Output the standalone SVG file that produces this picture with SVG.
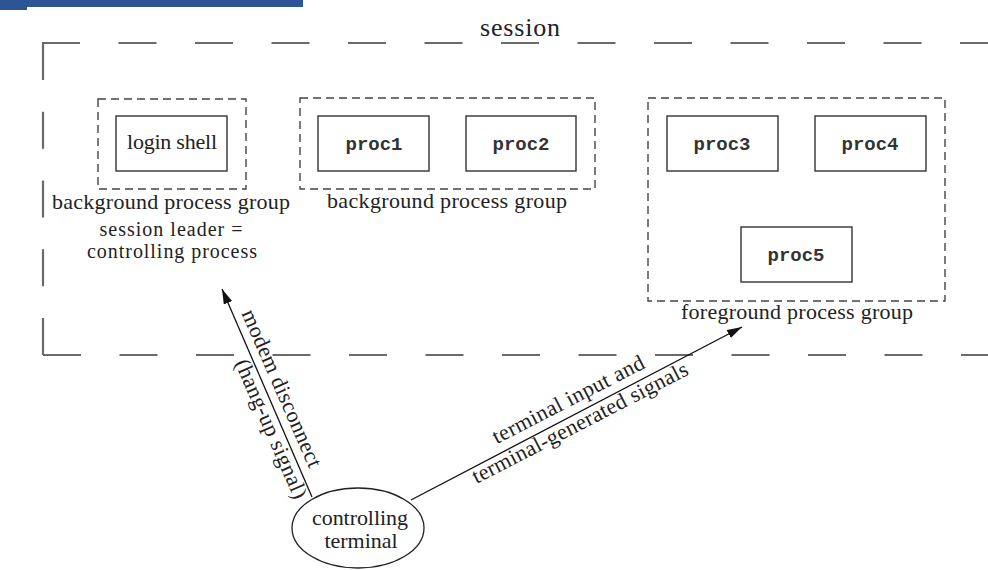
<svg xmlns="http://www.w3.org/2000/svg" width="988" height="570" viewBox="0 0 988 570">
<defs>
<style>
.sess{fill:none;stroke:#6a6a6a;stroke-width:2.2}
.grp{fill:none;stroke:#444;stroke-width:1.4;stroke-dasharray:8 5}
.box{fill:none;stroke:#333;stroke-width:1.4}
.t{font-family:"Liberation Serif","Times New Roman",serif;font-size:22px;fill:#222;text-anchor:middle}
.m{font-family:"Liberation Mono","Courier New",monospace;font-size:19px;font-weight:bold;fill:#333;text-anchor:middle}
.arr{fill:none;stroke:#111;stroke-width:1.3}
</style>
<marker id="ah" markerUnits="userSpaceOnUse" markerWidth="16" markerHeight="10" refX="15" refY="4.5" orient="auto">
<path d="M0,0 L15,4.5 L0,9 Z" fill="#111"/>
</marker>
</defs>
<rect width="988" height="570" fill="#ffffff"/>
<rect x="0" y="0" width="303" height="7" fill="#2d5596"/>
<rect x="0" y="0" width="27" height="10" fill="#2d5596"/>

<g id="session">
<path class="sess" d="M42,43 H988" stroke-dasharray="38 38.5"/>
<path class="sess" d="M43,43 V355" stroke-dasharray="37 31.75"/>
<path class="sess" d="M43,355 H988" stroke-dasharray="38 38.5"/>
<text class="t" x="520" y="36" style="font-size:26px" textLength="80">session</text>
</g>

<g id="login-group">
<rect class="grp" x="98" y="99" width="148" height="90"/>
<rect class="box" x="116" y="116" width="111" height="55"/>
<text class="t" x="172" y="149" textLength="90">login shell</text>
<text class="t" x="171" y="209" textLength="238">background process group</text>
<text class="t" x="171" y="235.5" style="font-size:20px" textLength="143">session leader =</text>
<text class="t" x="172" y="258" style="font-size:20px" textLength="170">controlling process</text>
</g>

<g id="bg-group">
<rect class="grp" x="300" y="98" width="295" height="91"/>
<text class="t" x="447" y="208" textLength="240">background process group</text>
</g>
<g id="proc1">
<rect class="box" x="318" y="116" width="111" height="55"/>
<text class="m" x="374" y="150">proc1</text>
</g>
<g id="proc2">
<rect class="box" x="466" y="116" width="110" height="55"/>
<text class="m" x="521" y="150">proc2</text>
</g>

<g id="fg-group">
<rect class="grp" x="648" y="98" width="297" height="203"/>
<text class="t" x="797" y="319" textLength="232">foreground process group</text>
</g>
<g id="proc3">
<rect class="box" x="667" y="116" width="111" height="55"/>
<text class="m" x="722" y="150">proc3</text>
</g>
<g id="proc4">
<rect class="box" x="815" y="116" width="111" height="55"/>
<text class="m" x="870" y="150">proc4</text>
</g>
<g id="proc5">
<rect class="box" x="741" y="227" width="111" height="55"/>
<text class="m" x="796" y="261">proc5</text>
</g>

<g id="terminal">
<ellipse cx="358" cy="528" rx="66" ry="40" fill="none" stroke="#222" stroke-width="1.3"/>
<text class="t" x="360" y="525" textLength="96">controlling</text>
<text class="t" x="361" y="548" textLength="73">terminal</text>
</g>

<g id="connectors">
<line class="arr" x1="312" y1="497" x2="222" y2="289" marker-end="url(#ah)"/>
<line class="arr" x1="411" y1="500" x2="742" y2="327" marker-end="url(#ah)"/>
<text class="t" transform="translate(275.3,391.1) rotate(66.4)" textLength="170">modem disconnect</text>
<text class="t" transform="translate(264.7,431.8) rotate(66.4)" textLength="150">(hang-up signal)</text>
<text class="t" transform="translate(571.5,405.8) rotate(-27.25)" textLength="168">terminal input and</text>
<text class="t" transform="translate(583.1,429.1) rotate(-27.25)" textLength="240">terminal-generated signals</text>
</g>
</svg>
